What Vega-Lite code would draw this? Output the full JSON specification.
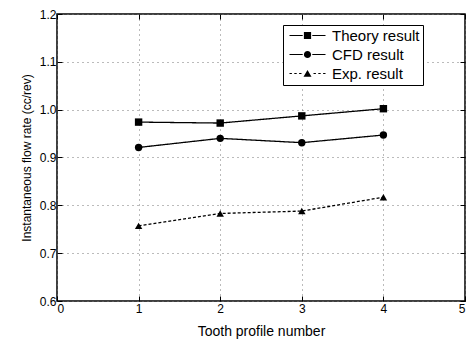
{
  "$schema": "https://vega.github.io/schema/vega-lite/v6.json",
  "width": 408,
  "height": 287,
  "autosize": "none",
  "padding": {"left": 57, "top": 14, "right": 3, "bottom": 39},
  "background": "white",
  "config": {
    "font": "Liberation Sans",
    "view": {"stroke": "black", "strokeWidth": 1.5},
    "axis": {
      "domain": false,
      "tickColor": "black",
      "tickSize": -5,
      "labelColor": "black",
      "labelFontSize": 12,
      "titleColor": "black",
      "titleFontWeight": "normal",
      "gridColor": "#777",
      "gridDash": [1, 4],
      "gridWidth": 1
    }
  },
  "data": {
    "values": [
      {"profile": 1, "rate": 0.974, "series": "Theory result"},
      {"profile": 2, "rate": 0.972, "series": "Theory result"},
      {"profile": 3, "rate": 0.987, "series": "Theory result"},
      {"profile": 4, "rate": 1.002, "series": "Theory result"},
      {"profile": 1, "rate": 0.921, "series": "CFD result"},
      {"profile": 2, "rate": 0.940, "series": "CFD result"},
      {"profile": 3, "rate": 0.931, "series": "CFD result"},
      {"profile": 4, "rate": 0.947, "series": "CFD result"},
      {"profile": 1, "rate": 0.757, "series": "Exp. result"},
      {"profile": 2, "rate": 0.783, "series": "Exp. result"},
      {"profile": 3, "rate": 0.788, "series": "Exp. result"},
      {"profile": 4, "rate": 0.817, "series": "Exp. result"}
    ]
  },
  "encoding": {
    "x": {
      "field": "profile", "type": "quantitative",
      "scale": {"domain": [0, 5], "nice": false},
      "axis": {"orient": "bottom", "values": [0, 1, 2, 3, 4, 5], "format": "d", "title": "Tooth profile number", "titleFontSize": 14, "labelPadding": 7, "titlePadding": 10}
    },
    "y": {
      "field": "rate", "type": "quantitative",
      "scale": {"domain": [0.6, 1.2], "nice": false, "zero": false},
      "axis": {"orient": "left", "values": [0.6, 0.7, 0.8, 0.9, 1.0, 1.1, 1.2], "format": ".1f", "title": "Instantaneous flow rate (cc/rev)", "titleFontSize": 12, "labelPadding": 6, "titlePadding": 6}
    }
  },
  "layer": [
    {
      "mark": {"type": "line", "color": "black", "strokeWidth": 1.3},
      "encoding": {
        "strokeDash": {
          "field": "series", "type": "nominal",
          "scale": {"domain": ["Theory result", "CFD result", "Exp. result"], "range": [[1, 0], [1, 0], [3, 2]]},
          "legend": null
        }
      }
    },
    {
      "mark": {"type": "point", "filled": true, "color": "black", "opacity": 1, "size": 55},
      "encoding": {
        "x": {"field": "profile", "type": "quantitative", "axis": null},
        "y": {"field": "rate", "type": "quantitative", "axis": null},
        "shape": {
          "field": "series", "type": "nominal",
          "scale": {"domain": ["Theory result", "CFD result", "Exp. result"], "range": ["square", "circle", "triangle-up"]},
          "legend": null
        }
      }
    },
    {
      "mark": {"type": "point", "filled": true, "color": "black", "size": 0},
      "encoding": {
        "x": {
          "field": "profile", "type": "quantitative",
          "axis": {"orient": "top", "values": [0, 1, 2, 3, 4, 5], "labels": false, "grid": false, "title": null}
        },
        "y": {
          "field": "rate", "type": "quantitative",
          "axis": {"orient": "right", "values": [0.6, 0.7, 0.8, 0.9, 1.0, 1.1, 1.2], "labels": false, "grid": false, "title": null}
        },
        "shape": {
          "field": "series", "type": "nominal",
          "scale": {
            "domain": ["Theory result", "CFD result", "Exp. result"],
            "range": [
              "M-1,-0.13H2.3V0.13H-1ZM4.7,-0.13H8V0.13H4.7ZM2.6,-0.9H4.4V0.9H2.6Z",
              "M-1,-0.13H2.3V0.13H-1ZM4.7,-0.13H8V0.13H4.7ZM2.6,0A0.9,0.9,0,1,1,4.4,0A0.9,0.9,0,1,1,2.6,0Z",
              "M-1,-0.13H-0.4V0.13H-1ZM0.2,-0.13H0.8V0.13H0.2ZM1.4,-0.13H2V0.13H1.4ZM5,-0.13H5.6V0.13H5ZM6.2,-0.13H6.8V0.13H6.2ZM7.4,-0.13H8V0.13H7.4ZM2.5,0.8L3.5,-0.9L4.5,0.8Z"
            ]
          },
          "legend": {
            "title": null,
            "orient": "none",
            "legendX": 226,
            "legendY": 11,
            "strokeColor": "black",
            "fillColor": "white",
            "padding": 3,
            "symbolSize": 64,
            "symbolOffset": 0,
            "symbolFillColor": "black",
            "symbolStrokeColor": "black",
            "symbolStrokeWidth": 0,
            "symbolOpacity": 1,
            "labelFontSize": 15,
            "labelColor": "black",
            "labelOffset": 31,
            "rowPadding": 3
          }
        }
      }
    }
  ],
  "resolve": {"scale": {"shape": "independent"}, "axis": {"x": "independent", "y": "independent"}}
}
